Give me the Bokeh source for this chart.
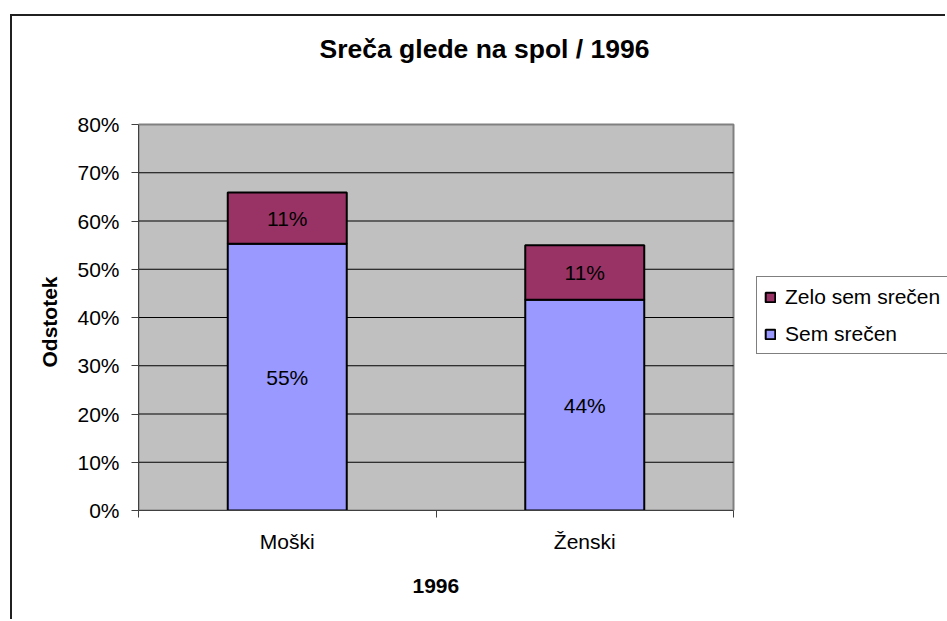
from bokeh.plotting import figure
from bokeh.models import (ColumnDataSource, Range1d, FixedTicker, Legend, LegendItem,
                          Label, Title)
from bokeh.core.properties import value
from bokeh.embed import file_html
from bokeh.resources import INLINE

# ---- data ----
categories = ["Moški", "Ženski"]
sem_srecen = [55.3, 43.7]          # Sem srečen (%)
zelo_srecen = [10.6, 11.3]         # Zelo sem srečen (%)
series_names = ["Sem srečen", "Zelo sem srečen"]
y_ticks = [0, 10, 20, 30, 40, 50, 60, 70, 80]
y_tick_labels = ["0%", "10%", "20%", "30%", "40%", "50%", "60%", "70%", "80%"]
title_text = "Sreča glede na spol / 1996"
x_title = "1996"
y_title = "Odstotek"

FONT = "Liberation Sans"
BLUE = "#9999FF"
MAROON = "#993366"
GRAY_AREA = "#C0C0C0"

# ---- layout (page pixels) ----
OX, OY = 12, 16                 # canvas origin on page (after chart border)
PAGE_W, PAGE_H = 947, 621
AREA_L, AREA_R = 138, 733       # plot-area left/right
AREA_T, AREA_B = 124, 510       # plot-area top/bottom
n_cat = len(categories)
y_max = y_ticks[-1]

# frame spans from AREA_L to the right edge and from the canvas top to AREA_B
x_hi = n_cat * (PAGE_W - AREA_L) / (AREA_R - AREA_L)
y_hi = y_max * (AREA_B - OY) / (AREA_B - AREA_T)


def px_x(px):
    return (px - AREA_L) / (AREA_R - AREA_L) * n_cat


def px_y(py):
    return (AREA_B - py) / (AREA_B - AREA_T) * y_max


x_pos = [i + 0.5 for i in range(n_cat)]
source = ColumnDataSource(dict(
    x=x_pos, sem=sem_srecen, zelo=zelo_srecen,
    sem_mid=[v / 2 for v in sem_srecen],
    zelo_mid=[s + z / 2 for s, z in zip(sem_srecen, zelo_srecen)],
    sem_lab=[f"{round(v)}%" for v in sem_srecen],
    zelo_lab=[f"{round(v)}%" for v in zelo_srecen],
))

W, H = PAGE_W - OX, PAGE_H - OY
p = figure(width=W, height=H, output_backend="svg", toolbar_location=None,
           x_range=Range1d(0, x_hi), y_range=Range1d(0, y_hi),
           min_border_left=AREA_L - OX, min_border_right=0,
           min_border_top=0, min_border_bottom=PAGE_H - AREA_B)
p.margin = (14, 0, 0, 10)
p.styles = {"border-left": "2px solid #202020", "border-top": "2px solid #202020"}

p.background_fill_color = "white"
p.border_fill_color = "white"
p.outline_line_color = None
p.xgrid.visible = False
p.ygrid.visible = False

# plot area
p.quad(left=[0], right=[n_cat], bottom=[0], top=[y_max],
       fill_color=GRAY_AREA, line_color="#808080", line_width=2)

# gridlines
grid_y = y_ticks[1:-1]
p.segment(x0=[0] * len(grid_y), x1=[n_cat] * len(grid_y), y0=grid_y, y1=grid_y,
          line_color="black", line_width=1)

r = p.vbar_stack(["sem", "zelo"], x="x", width=0.4, source=source,
                 fill_color=[BLUE, MAROON], line_color="black", line_width=2)

p.text(x="x", y="sem_mid", text="sem_lab", source=source, text_align="center",
       text_baseline="middle", text_font=value(FONT), text_font_size="21px",
       text_color="black")
p.text(x="x", y="zelo_mid", text="zelo_lab", source=source, text_align="center",
       text_baseline="middle", text_font=value(FONT), text_font_size="21px",
       text_color="black")

# chart title
p.add_layout(Label(x=px_x(484), y=px_y(48), text=title_text, text_align="center",
                   text_baseline="middle", text_font=FONT, text_font_size="26.5px",
                   text_font_style="bold", text_color="black"))

# y axis
ya = p.yaxis[0]
ya.bounds = (0, y_max)
ya.ticker = FixedTicker(ticks=y_ticks)
ya.major_label_overrides = {t: l for t, l in zip(y_ticks, y_tick_labels)}
ya.major_tick_out = 7
ya.major_tick_in = 0
ya.minor_tick_out = 0
ya.minor_tick_in = 0
ya.major_label_standoff = 12
ya.major_label_text_font = FONT
ya.major_label_text_font_size = "21px"
ya.major_label_text_color = "black"
ya.axis_line_color = "#404040"
ya.major_tick_line_color = "#404040"

# x axis
xa = p.xaxis[0]
xa.bounds = (0, n_cat)
xa.ticker = FixedTicker(ticks=x_pos, minor_ticks=list(range(n_cat + 1)))
xa.major_label_overrides = {x: c for x, c in zip(x_pos, categories)}
xa.major_tick_out = 0
xa.major_tick_in = 0
xa.minor_tick_out = 7
xa.minor_tick_in = 0
xa.minor_tick_line_color = "#404040"
xa.axis_line_color = "#404040"
xa.major_label_standoff = 12
xa.major_label_text_font = FONT
xa.major_label_text_font_size = "21px"
xa.major_label_text_color = "black"

# axis titles (centred on the plot area, not on the extended frame)
x_axis_title = Title(text=x_title, align="left", offset=412 - AREA_L,
                     vertical_align="top", standoff=46, text_font=FONT,
                     text_font_size="21px", text_font_style="bold", text_color="black")
p.add_layout(x_axis_title, "below")
y_axis_title = Title(text=y_title, align="left", offset=AREA_B - 367,
                     vertical_align="middle", standoff=26, text_font=FONT,
                     text_font_size="21px", text_font_style="bold", text_color="black")
p.add_layout(y_axis_title, "left")

# legend (inside the frame, which extends to the right edge)
legend = Legend(items=[LegendItem(label=series_names[1], renderers=[r[1]]),
                       LegendItem(label=series_names[0], renderers=[r[0]])],
                location=(756 - AREA_L, AREA_B - 354), orientation="vertical")
legend.label_text_font = FONT
legend.label_text_font_size = "21px"
legend.label_text_color = "black"
legend.glyph_width = 12
legend.glyph_height = 12
legend.label_height = 25
legend.label_standoff = 9
legend.spacing = 12
legend.padding = 7
legend.margin = 0
legend.border_line_color = "black"
legend.border_line_width = 1
legend.background_fill_color = "white"
legend.background_fill_alpha = 1
p.add_layout(legend)

open("out.html", "w").write(file_html(p, INLINE))
